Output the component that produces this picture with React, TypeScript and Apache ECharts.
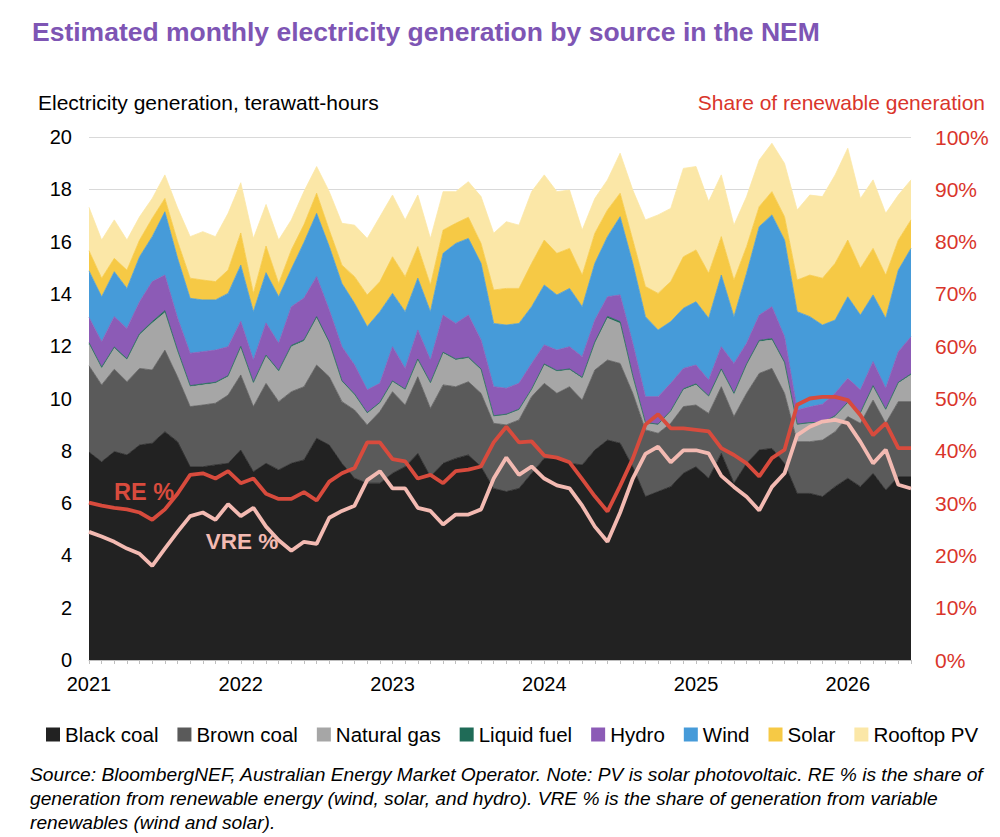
import React, { useEffect, useRef } from 'react';
import * as echarts from 'echarts';

const FONT = '"Liberation Sans", Arial, Helvetica, sans-serif';

// Jan 2021 .. Jun 2026, one entry per month
const MONTHS = [
  '2021-01', '2021-02', '2021-03', '2021-04', '2021-05', '2021-06', '2021-07', '2021-08', '2021-09', '2021-10', '2021-11', '2021-12',
  '2022-01', '2022-02', '2022-03', '2022-04', '2022-05', '2022-06', '2022-07', '2022-08', '2022-09', '2022-10', '2022-11', '2022-12',
  '2023-01', '2023-02', '2023-03', '2023-04', '2023-05', '2023-06', '2023-07', '2023-08', '2023-09', '2023-10', '2023-11', '2023-12',
  '2024-01', '2024-02', '2024-03', '2024-04', '2024-05', '2024-06', '2024-07', '2024-08', '2024-09', '2024-10', '2024-11', '2024-12',
  '2025-01', '2025-02', '2025-03', '2025-04', '2025-05', '2025-06', '2025-07', '2025-08', '2025-09', '2025-10', '2025-11', '2025-12',
  '2026-01', '2026-02', '2026-03', '2026-04', '2026-05', '2026-06',
];

// TWh per month
const BLACK_COAL = [
  7.95, 7.58, 7.97, 7.84, 8.22, 8.29, 8.73, 8.35, 7.39, 7.39, 7.46, 7.52,
  8.03, 7.2, 7.52, 7.27, 7.52, 7.65, 8.48, 8.22, 7.52, 6.95, 6.76, 6.76,
  7.14, 7.39, 7.9, 7.01, 7.52, 7.71, 7.84, 7.39, 6.56, 6.44, 6.56, 7.14,
  7.71, 7.71, 7.52, 7.46, 8.03, 8.41, 8.29, 7.39, 6.25, 6.44, 6.63, 7.14,
  7.39, 6.95, 7.9, 6.76, 7.52, 8.03, 8.09, 7.52, 6.37, 6.37, 6.25, 6.63,
  6.95, 6.63, 7.14, 6.5, 7.01, 7.01,
];
const BROWN_COAL = [
  3.3, 2.94, 3.15, 2.8, 2.93, 2.8, 3.12, 2.48, 2.3, 2.36, 2.36, 2.61,
  2.87, 2.49, 3.06, 2.61, 2.74, 2.8, 2.8, 2.61, 2.36, 2.61, 2.23, 2.74,
  3.12, 2.36, 2.93, 2.61, 3.0, 2.74, 2.8, 2.81, 2.49, 2.55, 2.62, 2.93,
  2.87, 2.49, 2.93, 2.48, 3.06, 3.06, 3.05, 2.81, 2.55, 2.23, 2.42, 2.55,
  2.36, 2.48, 2.55, 2.55, 2.68, 2.93, 3.06, 2.68, 1.98, 1.98, 2.16, 2.1,
  2.36, 2.42, 2.8, 2.55, 2.87, 2.87,
];
const NATURAL_GAS = [
  0.83, 0.63, 0.8, 0.83, 1.28, 1.79, 1.43, 0.97, 0.76, 0.77, 0.76, 0.7,
  1.05, 0.89, 1.04, 1.15, 1.72, 1.74, 1.79, 1.28, 0.76, 0.57, 0.44, 0.32,
  0.38, 0.58, 0.64, 0.96, 1.21, 1.02, 0.9, 0.89, 0.26, 0.38, 0.38, 0.26,
  0.7, 0.83, 0.64, 0.83, 1.02, 1.6, 1.53, 0.63, 0.25, 0.32, 0.45, 0.64,
  0.77, 0.64, 0.64, 0.85, 1.08, 1.21, 1.09, 1.14, 0.64, 0.7, 0.64, 0.58,
  0.51, 0.38, 0.51, 0.51, 0.7, 1.02,
];
const LIQUID_FUEL = [
  0.05, 0.05, 0.05, 0.05, 0.05, 0.06, 0.08, 0.05, 0.04, 0.04, 0.04, 0.04,
  0.04, 0.04, 0.04, 0.04, 0.05, 0.05, 0.06, 0.05, 0.04, 0.04, 0.03, 0.03,
  0.03, 0.03, 0.04, 0.03, 0.04, 0.04, 0.04, 0.04, 0.03, 0.03, 0.03, 0.03,
  0.04, 0.04, 0.04, 0.04, 0.05, 0.07, 0.07, 0.04, 0.03, 0.03, 0.03, 0.04,
  0.04, 0.03, 0.04, 0.04, 0.04, 0.05, 0.05, 0.05, 0.03, 0.03, 0.03, 0.03,
  0.04, 0.03, 0.04, 0.03, 0.04, 0.04,
];
const HYDRO = [
  0.97, 0.97, 1.16, 1.16, 1.22, 1.53, 1.36, 1.23, 1.24, 1.23, 1.23, 1.11,
  0.96, 0.85, 1.23, 1.04, 1.48, 1.6, 1.53, 1.22, 1.3, 1.11, 0.87, 0.73,
  1.31, 0.79, 1.11, 0.86, 1.42, 1.36, 1.61, 1.11, 1.11, 0.99, 0.99, 0.98,
  0.73, 0.78, 0.85, 0.79, 0.84, 0.75, 1.02, 1.24, 0.99, 1.05, 1.05, 0.78,
  0.72, 0.61, 0.85, 1.14, 0.79, 0.97, 1.22, 0.97, 0.54, 0.6, 0.7, 0.86,
  0.91, 0.87, 0.92, 0.8, 1.17, 1.42,
];
const WIND = [
  1.78, 1.72, 1.72, 1.53, 1.72, 1.72, 2.42, 2.29, 2.1, 1.98, 1.92, 2.04,
  2.15, 1.85, 1.92, 1.78, 1.44, 2.13, 2.42, 2.43, 2.42, 2.36, 2.42, 2.74,
  2.04, 2.17, 1.98, 1.85, 2.36, 3.06, 2.93, 2.93, 2.42, 2.42, 2.29, 2.17,
  2.29, 2.11, 2.23, 1.91, 2.17, 2.3, 2.99, 3.06, 3.06, 2.55, 2.36, 2.3,
  2.42, 2.36, 2.74, 1.79, 2.68, 3.38, 3.51, 3.7, 3.76, 3.45, 3.03, 2.8,
  3.12, 2.86, 2.55, 2.68, 3.12, 3.38,
];
const SOLAR = [
  0.77, 0.71, 0.51, 0.7, 0.64, 0.7, 0.51, 0.64, 0.77, 0.76, 0.7, 0.89,
  1.23, 0.7, 1.02, 0.51, 0.73, 0.68, 0.77, 0.63, 0.7, 1.02, 1.21, 1.15,
  1.4, 1.34, 1.21, 1.02, 0.89, 0.77, 0.81, 0.76, 1.28, 1.4, 1.34, 1.66,
  1.72, 1.59, 1.53, 1.21, 1.15, 1.02, 0.9, 0.89, 1.15, 1.4, 1.53, 1.97,
  1.98, 1.72, 1.47, 1.4, 1.02, 0.77, 0.89, 0.89, 1.21, 1.59, 1.79, 2.17,
  2.17, 1.79, 1.78, 1.65, 1.15, 1.09,
];
const ROOFTOP_PV = [
  1.66, 1.46, 1.47, 1.15, 0.89, 0.76, 0.9, 1.28, 1.59, 1.85, 1.72, 2.17,
  1.92, 2.1, 1.59, 1.66, 1.15, 1.27, 1.02, 1.47, 1.6, 1.97, 2.16, 2.48,
  2.36, 2.17, 1.97, 1.78, 1.47, 1.21, 1.36, 1.79, 2.17, 2.55, 2.42, 2.74,
  2.49, 2.36, 2.23, 1.72, 1.33, 1.15, 1.53, 1.91, 2.55, 3.0, 2.8, 3.38,
  3.19, 2.74, 2.36, 2.1, 1.91, 1.78, 1.85, 2.04, 2.68, 3.06, 3.12, 3.38,
  3.51, 2.67, 2.62, 2.36, 1.72, 1.53,
];

// % share, right axis
const RE_SHARE = [
  30.1, 29.5, 29.1, 28.8, 28.2, 26.8, 28.8, 31.8, 35.4, 35.7, 34.7, 36.1,
  33.8, 34.7, 31.8, 30.8, 30.8, 32.1, 30.5, 34.1, 35.7, 36.7, 41.6, 41.6,
  38.4, 38.0, 34.7, 35.4, 33.8, 36.1, 36.4, 37.0, 41.6, 44.6, 41.6, 41.8,
  39.1, 38.7, 37.8, 34.6, 31.3, 28.4, 33.3, 38.5, 45.0, 47.0, 44.3, 44.3,
  44.0, 43.7, 40.5, 39.2, 37.6, 35.1, 38.6, 40.2, 48.8, 50.0, 50.3, 50.3,
  49.7, 46.8, 43.0, 45.3, 40.5, 40.5,
];
const VRE_SHARE = [
  24.5, 23.6, 22.6, 21.3, 20.3, 18.0, 21.3, 24.5, 27.5, 28.2, 26.8, 29.8,
  27.5, 29.1, 25.5, 22.9, 20.9, 22.6, 22.2, 27.2, 28.5, 29.5, 34.4, 36.1,
  32.8, 32.8, 29.1, 28.5, 25.9, 27.8, 27.8, 28.8, 34.7, 38.7, 35.4, 37.0,
  34.7, 33.4, 32.8, 29.5, 25.5, 22.6, 28.2, 34.7, 39.4, 40.8, 37.8, 40.1,
  40.1, 39.5, 35.2, 33.1, 31.2, 28.6, 33.1, 35.7, 43.0, 44.6, 45.6, 45.9,
  45.3, 41.7, 37.6, 40.2, 33.5, 32.8,
];

const SOURCES = [
  { name: 'Black coal', data: BLACK_COAL, color: '#222222' },
  { name: 'Brown coal', data: BROWN_COAL, color: '#5a5a5a' },
  { name: 'Natural gas', data: NATURAL_GAS, color: '#a6a6a6' },
  { name: 'Liquid fuel', data: LIQUID_FUEL, color: '#1f6b57' },
  { name: 'Hydro', data: HYDRO, color: '#8c5bb6' },
  { name: 'Wind', data: WIND, color: '#469bd9' },
  { name: 'Solar', data: SOLAR, color: '#f6c945' },
  { name: 'Rooftop PV', data: ROOFTOP_PV, color: '#fbe7a7' },
];

const RE_COLOR = '#d84b3d';
const VRE_COLOR = '#f3bab2';
const AXIS_RED = '#d9352b';

const NOTE =
  'Source: BloombergNEF, Australian Energy Market Operator. Note: PV is solar photovoltaic. RE % is the share of\n' +
  'generation from renewable energy (wind, solar, and hydro). VRE % is the share of generation from variable\n' +
  'renewables (wind and solar).';

export default function App() {
  const ref = useRef<HTMLDivElement | null>(null);

  useEffect(() => {
    if (!ref.current) return;
    const chart = echarts.init(ref.current, undefined, { renderer: 'svg' });
    chart.setOption({
      animation: false,
      backgroundColor: '#ffffff',
      textStyle: { fontFamily: FONT },
      grid: { left: 89, right: 89, top: 137, bottom: 177, containLabel: false },
      legend: {
        data: SOURCES.map((s) => s.name),
        left: 46,
        top: 724,
        padding: 0,
        icon: 'rect',
        itemWidth: 14,
        itemHeight: 14,
        itemGap: 19,
        textStyle: { fontSize: 20.5, color: '#000', fontFamily: FONT },
      },
      xAxis: {
        type: 'category',
        data: MONTHS,
        boundaryGap: false,
        axisLine: { lineStyle: { color: '#bfbfbf', width: 1 } },
        axisTick: { show: true, interval: 0, length: 4, lineStyle: { color: '#bfbfbf' } },
        axisLabel: {
          interval: (_i: number, v: string) => v.endsWith('-01'),
          formatter: (v: string) => v.slice(0, 4),
          color: '#000',
          fontSize: 20,
          margin: 14,
        },
        splitLine: { show: false },
      },
      yAxis: [
        {
          type: 'value',
          min: 0,
          max: 20,
          interval: 2,
          axisLine: { show: false },
          axisTick: { show: false },
          axisLabel: { color: '#000', fontSize: 20, margin: 17 },
          splitLine: { lineStyle: { color: '#d9d9d9', width: 1 } },
        },
        {
          type: 'value',
          position: 'right',
          min: 0,
          max: 100,
          interval: 10,
          axisLine: { show: false },
          axisTick: { show: false },
          axisLabel: { color: AXIS_RED, fontSize: 21, margin: 24, formatter: '{value}%' },
          splitLine: { show: false },
        },
      ],
      series: [
        ...SOURCES.map((s) => ({
          name: s.name,
          type: 'line',
          stack: 'generation',
          data: s.data,
          symbol: 'none',
          itemStyle: { color: s.color },
          lineStyle: { color: s.color, width: 0.8 },
          areaStyle: { color: s.color, opacity: 1 },
          emphasis: { disabled: true },
          z: 2,
        })),
        {
          name: 'RE %',
          type: 'line',
          yAxisIndex: 1,
          data: RE_SHARE,
          symbol: 'none',
          lineStyle: { color: RE_COLOR, width: 3.8 },
          itemStyle: { color: RE_COLOR },
          emphasis: { disabled: true },
          z: 5,
        },
        {
          name: 'VRE %',
          type: 'line',
          yAxisIndex: 1,
          data: VRE_SHARE,
          symbol: 'none',
          lineStyle: { color: VRE_COLOR, width: 3.8 },
          itemStyle: { color: VRE_COLOR },
          emphasis: { disabled: true },
          z: 5,
        },
      ],
      graphic: [
        {
          type: 'text',
          left: 32,
          top: 18,
          style: {
            text: 'Estimated monthly electricity generation by source in the NEM',
            fill: '#7e55b4',
            font: `bold 26.5px ${FONT}`,
          },
        },
        {
          type: 'text',
          left: 38,
          top: 92,
          style: { text: 'Electricity generation, terawatt-hours', fill: '#000', font: `21px ${FONT}` },
        },
        {
          type: 'text',
          right: 15,
          top: 92,
          style: { text: 'Share of renewable generation', fill: AXIS_RED, font: `21px ${FONT}` },
        },
        {
          type: 'text',
          x: 144,
          y: 492,
          z: 10,
          style: {
            text: 'RE %',
            fill: RE_COLOR,
            font: `bold 23.5px ${FONT}`,
            textAlign: 'center',
            textVerticalAlign: 'middle',
          },
        },
        {
          type: 'text',
          x: 242,
          y: 541,
          z: 10,
          style: {
            text: 'VRE %',
            fill: VRE_COLOR,
            font: `bold 22.5px ${FONT}`,
            textAlign: 'center',
            textVerticalAlign: 'middle',
          },
        },
        {
          type: 'text',
          left: 30,
          top: 762,
          style: { text: NOTE, fill: '#000', font: `italic 19.2px ${FONT}`, lineHeight: 24 },
        },
      ],
    });
    return () => chart.dispose();
  }, []);

  return (
    <div
      ref={ref}
      style={{ position: 'absolute', left: 0, top: 0, width: 1000, height: 837, background: '#fff' }}
    />
  );
}
